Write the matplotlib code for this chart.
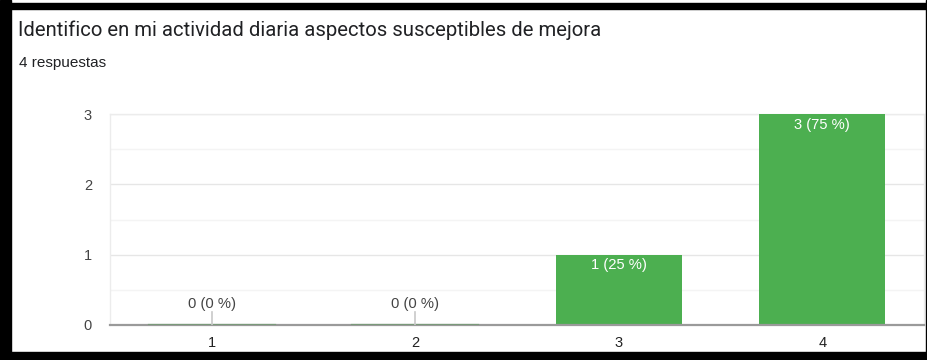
import matplotlib.pyplot as plt
from matplotlib.patches import Rectangle

title = "Identifico en mi actividad diaria aspectos susceptibles de mejora"
subtitle = "4 respuestas"
categories = ["1", "2", "3", "4"]
counts = [0, 0, 1, 3]
total = sum(counts)

green = "#4caf50"

fig = plt.figure(figsize=(9.28, 3.6), dpi=100)
W, H = 928, 360

# plot area in pixel terms
left, right, bottom, top = 110, 924, 325, 114
ax = fig.add_axes([left / W, 1 - bottom / H, (right - left) / W, (bottom - top) / H])

x = list(range(len(categories)))
ax.bar(x, counts, width=0.62, color=green, zorder=3)
ax.set_xlim(-0.5, len(categories) - 0.5)
ax.set_ylim(0, 3)

# grid: integers plus faint half steps
ax.set_yticks([0, 1, 2, 3])
ax.set_yticks([0.5, 1.5, 2.5], minor=True)
ax.yaxis.grid(True, which="major", color="#e6e6e6", lw=1, zorder=0)
ax.yaxis.grid(True, which="minor", color="#f4f4f4", lw=1, zorder=0)
ax.tick_params(axis="both", which="both", length=0)
ax.tick_params(axis="y", pad=13, labelsize=10.5, labelcolor="#444444")
ax.tick_params(axis="x", pad=8, labelsize=10.5, labelcolor="#222222")
ax.set_xticks(x)
ax.set_xticklabels(categories)
for lbl in ax.get_yticklabels() + ax.get_xticklabels():
    lbl.set_fontfamily("Liberation Sans")

for side in ["top", "right", "left"]:
    ax.spines[side].set_color("#ececec")
    ax.spines[side].set_linewidth(1)
ax.spines["bottom"].set_color("#9a9a9a")
ax.spines["bottom"].set_linewidth(1.6)
ax.spines["bottom"].set_zorder(4)

for xi, c in zip(x, counts):
    pct = round(100 * c / total)
    txt = f"{c} ({pct} %)"
    if c > 0:
        ax.text(xi, c - 0.05, txt, ha="center", va="top", color="white",
                fontsize=10.6, family="Liberation Sans", zorder=5)
    else:
        # zero bar: thin green trace on the axis plus a short leader
        ax.plot([xi - 0.31, xi + 0.31], [0, 0], color="#7a9a7a", lw=1.6, zorder=5)
        ax.plot([xi, xi], [0, 0.19], color="#c8c8c8", lw=1.2, zorder=5)
        ax.text(xi, 0.2, txt, ha="center", va="bottom", color="#444444",
                fontsize=10.6, family="Liberation Sans", zorder=5)

fig.text(18 / W, 1 - 30 / H, title, ha="left", va="center", fontsize=14.6,
         family="Roboto", color="#202124")
fig.text(19 / W, 1 - 63 / H, subtitle, ha="left", va="center", fontsize=11,
         family="Liberation Sans", color="#202124")

# black frame round the card
frame = [(0, 3, 928, 6), (0, 0, 11, 360), (0, 352, 928, 8), (926, 0, 2, 360)]
for fx, fy, fw, fh in frame:
    fig.patches.append(Rectangle((fx / W, 1 - (fy + fh) / H), fw / W, fh / H,
                                 transform=fig.transFigure, color="black", zorder=10))

fig.savefig("out.png", dpi=100)
